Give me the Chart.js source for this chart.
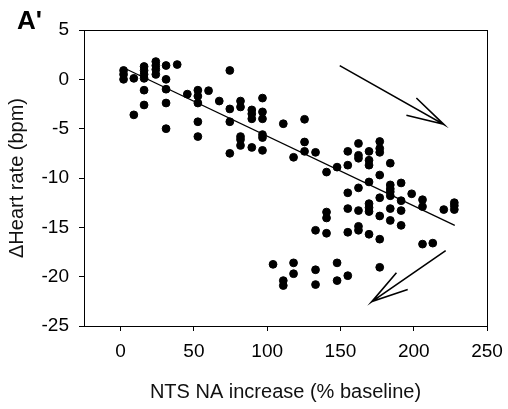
<!DOCTYPE html>
<html>
<head>
<meta charset="utf-8">
<script src="https://cdn.jsdelivr.net/npm/chart.js@4.4.0/dist/chart.umd.min.js"></script>
<style>
  html, body { margin: 0; padding: 0; background: #fff; }
  #wrap { width: 508px; height: 409px; position: relative; }
</style>
</head>
<body>
<div id="wrap"><canvas id="c"></canvas></div>
<script>
// NTS NA increase (% baseline) vs change in heart rate (bpm)
const naX = [
  2, 2, 2, 9, 9,
  16, 16, 16, 16, 16, 16,
  24, 24, 24, 24,
  31, 31, 31, 31, 31,
  38.6, 45.5,
  52.7, 52.7, 52.7, 52.7, 52.7,
  60, 67.3,
  74.5, 74.5, 74.5, 74.5,
  81.8, 81.8, 81.8, 81.8, 81.8,
  89.5, 89.5, 89.5, 89.5,
  96.8, 96.8, 96.8, 96.8, 96.8, 96.8,
  111, 118, 125.5, 125.5, 125.5, 133, 140.5, 147.7,
  155, 155, 155, 155, 155, 155,
  162.3, 162.3, 162.3, 162.3, 162.3, 162.3, 162.3,
  169.5, 169.5, 169.5, 169.5, 169.5, 169.5, 169.5, 169.5,
  176.8, 176.8, 176.8, 176.8, 176.8, 176.8, 176.8, 176.8,
  184, 184, 184, 184, 184, 184, 184,
  191.4, 191.4, 191.4, 191.4,
  198.6, 206, 206, 206, 213, 220.5,
  227.7, 227.7, 227.7,
  104, 111, 111, 118, 118, 133, 133, 133,
  140.5, 140.5, 140.5, 147.7, 147.7
];
const hrY = [
  0.9, 0.5, 0, 0.1, -3.6,
  1.3, 0.9, 0.5, 0.1, -1.1, -2.6,
  1.8, 1.4, 1.0, 0.5,
  1.4, 0, -1.0, -2.4, -5.0,
  1.5, -1.5,
  -1.1, -1.7, -2.4, -4.3, -5.8,
  -1.15, -2.2,
  0.9, -3.0, -4.3, -7.5,
  -2.2, -2.8, -5.8, -6.1, -6.7,
  -3.1, -3.5, -4.0, -6.9,
  -1.9, -3.3, -4.0, -5.6, -5.9, -7.2,
  -4.5, -7.9, -4.05, -6.35, -7.3, -7.4, -9.4, -8.9,
  -7.3, -8.7, -11.5, -13.1, -15.5, -19.9,
  -6.5, -7.7, -8.0, -11.0, -13.3, -14.9, -15.3,
  -7.3, -8.2, -8.7, -10.4, -12.6, -13.0, -13.4, -15.7,
  -6.3, -7.0, -7.4, -9.7, -12.0, -13.85, -16.2, -19.05,
  -8.5, -10.7, -11.1, -11.4, -11.8, -13.1, -14.3,
  -10.5, -12.3, -13.3, -14.8,
  -11.6, -12.2, -12.9, -16.7, -16.6, -13.2,
  -12.5, -12.8, -13.2,
  -18.75, -20.4, -20.9, -18.6, -19.7, -19.3, -20.8, -15.3,
  -13.45, -14.05, -15.6, -18.6, -20.4
];

// regression line end points
const fitX = [3, 228];
const fitY = [1.1, -14.8];

// arrows (shaft end -> head, then the two barbs)
const arrowDownX = [149.5, 220.5, 201.8, 220.5, 195];
const arrowDownY = [1.39, -4.56, -1.89, -4.56, -3.65];
const arrowLowX = [221.8, 171.4, 188.2, 171.4, 195.9];
const arrowLowY = [-17.36, -22.53, -19.6, -22.53, -21.3];

const xTicks = [0, 50, 100, 150, 200, 250];
const yTicks = [-25, -20, -15, -10, -5, 0, 5];

const FONT = "'Liberation Sans', Arial, sans-serif";
const zip = (xs, ys) => xs.map((x, i) => ({ x, y: ys[i] }));

const lineSet = (xs, ys, w) => ({
  type: 'line', data: zip(xs, ys), borderColor: '#000', borderWidth: w,
  pointRadius: 0, fill: false, tension: 0, showLine: true
});

/* frame + panel letter */
const framePlugin = {
  id: 'frame',
  afterDraw(chart) {
    const { ctx, chartArea: a } = chart;
    ctx.save();
    ctx.strokeStyle = '#000';
    ctx.lineWidth = 1;
    ctx.strokeRect(a.left + 0.5, a.top + 0.5, a.right - a.left, a.bottom - a.top);
    ctx.fillStyle = '#000';
    ctx.font = `bold 26px ${FONT}`;
    ctx.textBaseline = 'alphabetic';
    ctx.fillText("A'", 17, 29);
    ctx.restore();
  }
};

new Chart(document.getElementById('c'), {
  type: 'scatter',
  data: {
    datasets: [
      { data: zip(naX, hrY), backgroundColor: '#000', borderColor: '#000', pointRadius: 3.9, pointHoverRadius: 3.9 },
      lineSet(fitX, fitY, 1.3),
      lineSet(arrowDownX, arrowDownY, 1.6),
      lineSet(arrowLowX, arrowLowY, 1.6)
    ]
  },
  options: {
    responsive: true, maintainAspectRatio: false, animation: false,
    layout: { padding: { top: 30, right: 21, left: 0, bottom: 0 } },
    plugins: { legend: { display: false }, tooltip: { enabled: false } },
    scales: {
      x: {
        type: 'linear', min: -25, max: 250,
        afterBuildTicks: s => { s.ticks = xTicks.map(v => ({ value: v })); },
        afterFit: s => { s.height = 83; s.paddingLeft = 0; s.paddingRight = 0; },
        grid: { drawOnChartArea: false, drawTicks: true, tickLength: 5, color: '#000' },
        border: { display: true, color: '#000' },
        ticks: { color: '#000', padding: 9, maxRotation: 0, font: { family: FONT, size: 19 } },
        title: { display: true, text: 'NTS NA increase (% baseline)', color: '#111',
                 padding: { top: 0, bottom: 5 }, font: { family: FONT, size: 20 } }
      },
      y: {
        type: 'linear', min: -25, max: 5,
        afterBuildTicks: s => { s.ticks = yTicks.map(v => ({ value: v })); },
        afterFit: s => { s.width = 84; s.paddingTop = 0; s.paddingBottom = 0; },
        grid: { drawOnChartArea: false, drawTicks: true, tickLength: 5, color: '#000' },
        border: { display: true, color: '#000' },
        ticks: { color: '#000', padding: 10, font: { family: FONT, size: 19 } },
        title: { display: true, text: '\u0394Heart rate (bpm)', color: '#111',
                 padding: { top: 5, bottom: 0 }, font: { family: FONT, size: 20 } }
      }
    }
  },
  plugins: [framePlugin]
});
</script>
</body>
</html>
